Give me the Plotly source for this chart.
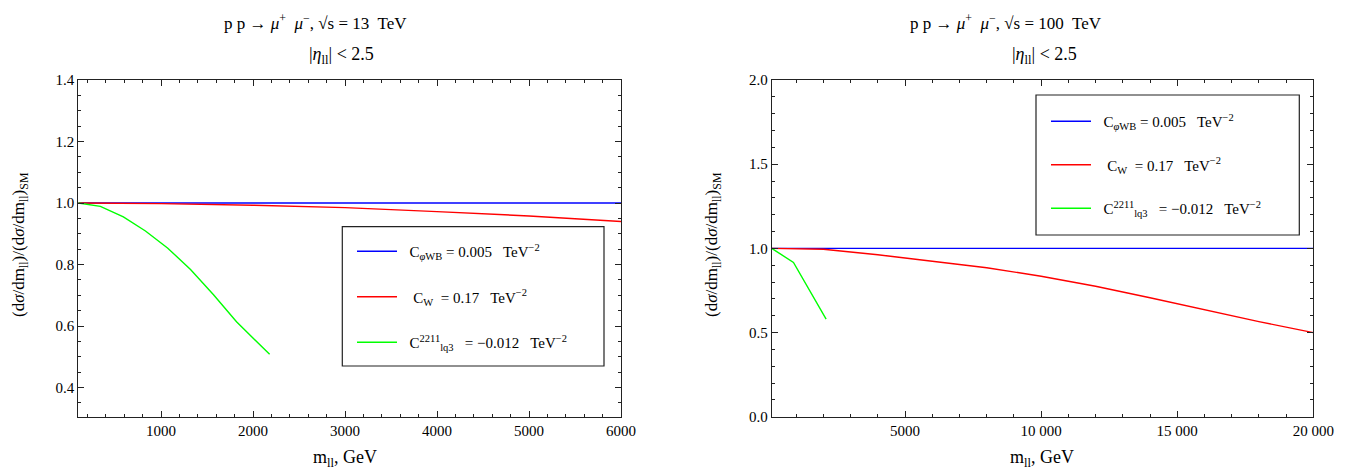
import plotly.graph_objects as go

# ---------------- data ----------------
# sqrt(s) = 13 TeV panel
m13_blue = [100, 1000, 2000, 3000, 4000, 5000, 6000]
r13_blue = [1.0, 1.0, 1.0, 1.0, 1.0, 1.0, 1.0]
m13_red = [100, 1000, 2000, 3000, 4000, 5000, 6000]
r13_red = [1.0, 0.998, 0.993, 0.985, 0.972, 0.958, 0.94]
m13_green = [100, 340, 590, 830, 1070, 1320, 1570, 1820, 2180]
r13_green = [1.0, 0.989, 0.955, 0.909, 0.854, 0.784, 0.702, 0.614, 0.508]

# sqrt(s) = 100 TeV panel
m100_blue = [100, 5000, 10000, 15000, 20000]
r100_blue = [1.0, 1.0, 1.0, 1.0, 1.0]
m100_red = [100, 2000, 4000, 6000, 8000, 10000, 12000, 14000, 16000, 18000, 20000]
r100_red = [1.0, 0.995, 0.962, 0.925, 0.885, 0.835, 0.775, 0.707, 0.635, 0.565, 0.5]
m100_green = [100, 900, 2100]
r100_green = [1.0, 0.917, 0.58]

names = [
    "\u00a0\u00a0C<sub><i>φ</i>WB</sub> = 0.005   TeV<sup>−2</sup>",
    "\u00a0\u00a0\u00a0C<sub>W</sub>  = 0.17   TeV<sup>−2</sup>",
    "\u00a0\u00a0C<sup>2211</sup><sub>lq3</sub>   = −0.012   TeV<sup>−2</sup>",
]
colors = ["#0000ff", "#ff0000", "#00ff00"]

x13_ticks = [1000, 2000, 3000, 4000, 5000, 6000]
x100_tickvals = [5000, 10000, 15000, 20000]
x100_ticktext = ["5000", "10 000", "15 000", "20 000"]

W, H = 1368, 474
FONT = "Liberation Serif, Times New Roman, serif"

fig = go.Figure()

panels = [
    ("x", "y", "legend", [(m13_blue, r13_blue), (m13_red, r13_red), (m13_green, r13_green)]),
    ("x2", "y2", "legend2", [(m100_blue, r100_blue), (m100_red, r100_red), (m100_green, r100_green)]),
]
for xa, ya, leg, series in panels:
    for i, (xs, ys) in enumerate(series):
        fig.add_trace(go.Scatter(
            x=xs, y=ys, mode="lines", name=names[i],
            line=dict(color=colors[i], width=1.4),
            xaxis=xa, yaxis=ya, legend=leg,
            legendgroup=f"{leg}_{i}",
        ))

def px(v):
    return v / W

def py(v):
    return 1 - v / H

ydom = [py(416.8), py(80.0)]
common = dict(
    showline=True, linecolor="#222", linewidth=1, mirror="allticks",
    ticks="inside", ticklen=6, tickcolor="#222", tickwidth=1,
    showgrid=False, zeroline=False, automargin=False,
    tickfont=dict(family=FONT, size=15, color="black"),
)

fig.update_layout(
    template="none",
    width=W, height=H,
    margin=dict(l=0, r=0, t=0, b=0, autoexpand=False),
    paper_bgcolor="white", plot_bgcolor="white",
    font=dict(family=FONT, size=15, color="black"),
    xaxis=dict(domain=[px(78.3), px(621.0)], range=[100, 6000],
               tickvals=x13_ticks, anchor="y",
               minor=dict(ticks="inside", ticklen=3, dtick=200, tick0=0, tickcolor="#222"),
               **common),
    yaxis=dict(domain=ydom, range=[0.305, 1.4], dtick=0.2, tick0=0, tickformat=".1f",
               anchor="x",
               minor=dict(ticks="inside", ticklen=3, dtick=0.05, tick0=0, tickcolor="#222"),
               **common),
    xaxis2=dict(domain=[px(771.7), px(1313.3)], range=[100, 20000],
                tickvals=x100_tickvals, ticktext=x100_ticktext, anchor="y2",
                minor=dict(ticks="inside", ticklen=3, dtick=1000, tick0=0, tickcolor="#222"),
                **common),
    yaxis2=dict(domain=ydom, range=[0.0, 2.0], dtick=0.5, tick0=0, tickformat=".1f",
                anchor="x2",
                minor=dict(ticks="inside", ticklen=3, dtick=0.1, tick0=0, tickcolor="#222"),
                **common),
    legend=dict(x=px(352), y=py(235), xanchor="left", yanchor="top",
                bgcolor="rgba(0,0,0,0)", borderwidth=0, traceorder="grouped",
                tracegroupgap=23, itemwidth=40,
                font=dict(family=FONT, size=15, color="black")),
    legend2=dict(x=px(1046), y=py(105), xanchor="left", yanchor="top",
                 bgcolor="rgba(0,0,0,0)", borderwidth=0, traceorder="grouped",
                 tracegroupgap=21, itemwidth=40,
                 font=dict(family=FONT, size=15, color="black")),
)

# legend frames
for (x0, x1, y0, y1) in [(342.3, 604.0, 226.7, 366.0), (1036.0, 1299.3, 95.0, 235.0)]:
    fig.add_shape(type="rect", xref="paper", yref="paper",
                  x0=px(x0), x1=px(x1), y0=py(y1), y1=py(y0),
                  line=dict(color="#222", width=1.2), fillcolor="rgba(0,0,0,0)")

ann = []
tfont = dict(family=FONT, size=17, color="black")
tfont2 = dict(family=FONT, size=18, color="black")
# titles
ann.append(dict(text="p p → <i>μ</i><sup>+</sup>  <i>μ</i><sup>−</sup>, √s = 13  TeV",
                x=px(315), y=py(22), font=tfont))
ann.append(dict(text="|<i>η</i><sub>ll</sub>| < 2.5", x=px(341), y=py(55), font=tfont2))
ann.append(dict(text="p p → <i>μ</i><sup>+</sup>  <i>μ</i><sup>−</sup>, √s = 100  TeV",
                x=px(1006), y=py(22), font=tfont))
ann.append(dict(text="|<i>η</i><sub>ll</sub>| < 2.5", x=px(1044), y=py(55), font=tfont2))
# x titles
ann.append(dict(text="m<sub>ll</sub>, GeV", x=px(345), y=py(458), font=tfont2))
ann.append(dict(text="m<sub>ll</sub>, GeV", x=px(1042), y=py(458), font=tfont2))
# y titles
ytxt = "(d<i>σ</i>/dm<sub>ll</sub>)/(d<i>σ</i>/dm<sub>ll</sub>)<sub>SM</sub>"
ann.append(dict(text=ytxt, x=px(20), y=py(245), textangle=-90, font=tfont))
ann.append(dict(text=ytxt, x=px(713), y=py(245), textangle=-90, font=tfont))
for a in ann:
    a.update(xref="paper", yref="paper", showarrow=False, xanchor="center", yanchor="middle")
fig.update_layout(annotations=ann)

fig.write_html("out.html", config={"displayModeBar": False},
               post_script="document.body.style.margin='0';document.body.style.overflow='hidden';")
